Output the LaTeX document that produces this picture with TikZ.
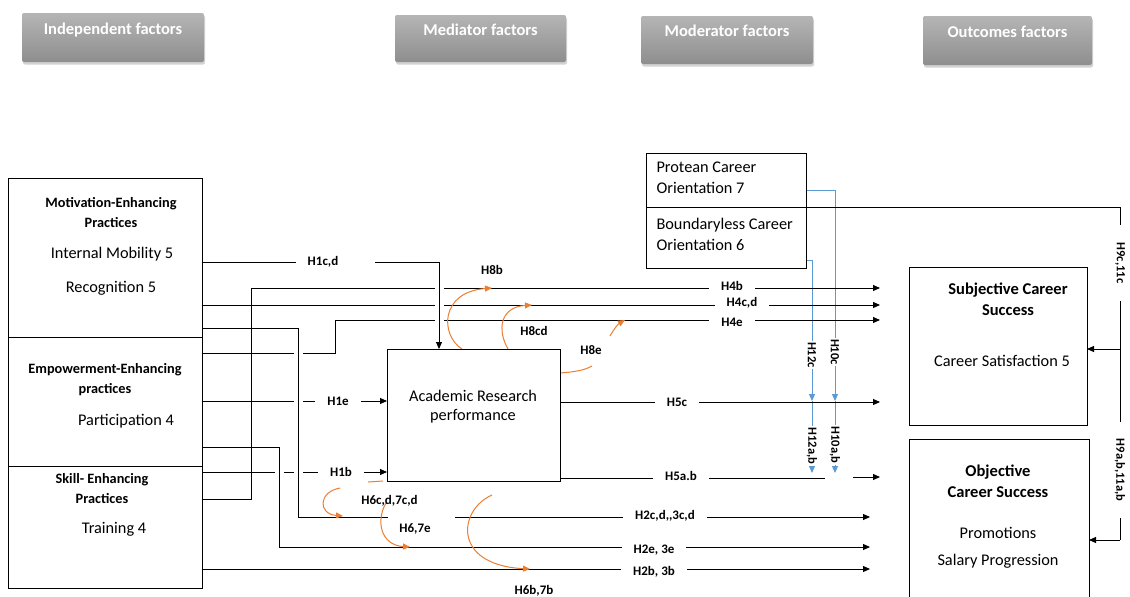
\documentclass[tikz,border=0pt]{standalone}
\usepackage{fontspec}
\setmainfont{Carlito}
\usetikzlibrary{arrows.meta,shadows}

\definecolor{hdrtop}{HTML}{B5B5B5}
\definecolor{hdrbot}{HTML}{8E8E8E}
\definecolor{hypor}{HTML}{ED7D31}
\definecolor{modblue}{HTML}{5B9BD5}

\newcommand{\hdrfont}{\fontsize{16.5}{19}\selectfont\bfseries}
\newcommand{\ttlfont}{\fontsize{14.3}{20}\selectfont\bfseries}
\newcommand{\outfont}{\fontsize{16.5}{21}\selectfont\bfseries}
\newcommand{\itmfont}{\fontsize{16.3}{20}\selectfont}
\newcommand{\hypfont}{\fontsize{13}{15}\selectfont\bfseries}

\tikzset{
hdrbox/.style={rounded corners=2pt, top color=hdrtop, bottom color=hdrbot,
  text=white, font=\hdrfont, text depth=18pt, inner sep=0pt,
  drop shadow={opacity=.35, shadow xshift=1pt, shadow yshift=-2.5pt}},
grpbox/.style={draw, line width=1pt, inner sep=0pt, outer sep=0pt},
grptitle/.style={align=center, font=\ttlfont},
outtitle/.style={align=center, font=\outfont},
itemtxt/.style={font=\itmfont},
modtxt/.style={align=left, font=\fontsize{16.3}{21}\selectfont},
ln/.style={line width=0.9pt},
hop/.style={preaction={draw=white, line width=9pt, arrows=-}},
blu/.style={draw=modblue, line width=1pt},
orln/.style={draw=hypor, line width=1pt},
hlab/.style={font=\hypfont, fill=white, inner xsep=12pt, inner ysep=2pt},
olab/.style={font=\hypfont},
rlab/.style={font=\fontsize{12.5}{14}\selectfont\bfseries, rotate=-90, fill=white, inner xsep=1.5pt, inner ysep=1pt},
}

\begin{document}
\begin{tikzpicture}[x=1pt, y=-1pt, >={Triangle[length=7pt,width=6pt]}]

\path[fill=white, use as bounding box] (0,0) rectangle (1130,597);

%%%%%%%%%%%%%%%%%%%%%%%%%%%%%%%%%%%%%%%%%%%%%%%%%%%%%%%%%%%%
% HEADERS
%%%%%%%%%%%%%%%%%%%%%%%%%%%%%%%%%%%%%%%%%%%%%%%%%%%%%%%%%%%%

\node[hdrbox, minimum width=182pt, minimum height=49pt] (hind) at (113,37.5) {Independent factors};
\node[hdrbox, minimum width=171pt, minimum height=47pt] (hmed) at (480.5,38.5) {Mediator factors};
\node[hdrbox, minimum width=172pt, minimum height=48pt] (hmod) at (727,40) {Moderator factors};
\node[hdrbox, minimum width=169pt, minimum height=49pt] (hout) at (1007.5,40.5) {Outcomes factors};

%%%%%%%%%%%%%%%%%%%%%%%%%%%%%%%%%%%%%%%%%%%%%%%%%%%%%%%%%%%%
% BOXES (placed first so the lines can use them)
%%%%%%%%%%%%%%%%%%%%%%%%%%%%%%%%%%%%%%%%%%%%%%%%%%%%%%%%%%%%

\path
node[grpbox, minimum width=194pt, minimum height=159pt] (mot) at (105,257.5) {}
node[grpbox, minimum width=194pt, minimum height=129pt] (emp) at (105,401.5) {}
node[grpbox, minimum width=194pt, minimum height=122pt] (skl) at (105,527) {}
node[grpbox, minimum width=173pt, minimum height=132pt] (arp) at (473.5,415) {}
node[grpbox, minimum width=160pt, minimum height=54pt] (pco) at (726,180) {}
node[grpbox, minimum width=160pt, minimum height=61pt] (bco) at (726,237.5) {}
node[grpbox, minimum width=178pt, minimum height=158pt] (sub) at (998,346) {}
node[grpbox, minimum width=180pt, minimum height=181pt] (obj) at (999,529.5) {};

% corners and arrow ends
\coordinate (c1cd) at (439,262);
\coordinate (c4b) at (251,288);
\coordinate (c4e) at (335,320);
\coordinate (c2cd) at (298,517);
\coordinate (c2e) at (279,547);
\coordinate (e4b) at (880,288);
\coordinate (e4cd) at (880,305);
\coordinate (e4e) at (880,320);
\coordinate (e5c) at (880,402);
\coordinate (e5ab) at (880,477);
\coordinate (g5a) at (825,478);
\coordinate (g5b) at (853,477);
\coordinate (g2a) at (388,517);
\coordinate (g2b) at (455,517);
\coordinate (e2cd) at (870,517);
\coordinate (e2e) at (870,547);
\coordinate (e2b) at (870,569);
\coordinate (m10) at (835,401);
\coordinate (t10) at (835,473);
\coordinate (m12) at (812,401);
\coordinate (t12) at (812,473);
\coordinate (r1) at (1120,349);
\coordinate (r2) at (1120,540);

%%%%%%%%%%%%%%%%%%%%%%%%%%%%%%%%%%%%%%%%%%%%%%%%%%%%%%%%%%%%
% MODERATOR LINES
%%%%%%%%%%%%%%%%%%%%%%%%%%%%%%%%%%%%%%%%%%%%%%%%%%%%%%%%%%%%

\draw[blu,->] (pco.east |- 0,190) -| (m10);
\draw[blu,->] (m10) -- (t10);
\draw[blu,->] (bco.east |- 0,260) -| (m12);
\draw[blu,->] (m12) -- (t12);

\draw[ln] (bco.north east) -| (r1) -- (r2);
\draw[ln,->] (r1) -- (r1 -| sub.east);
\draw[ln,->] (r2) -- (r2 -| obj.east);

%%%%%%%%%%%%%%%%%%%%%%%%%%%%%%%%%%%%%%%%%%%%%%%%%%%%%%%%%%%%
% HYPOTHESIS LINES
%%%%%%%%%%%%%%%%%%%%%%%%%%%%%%%%%%%%%%%%%%%%%%%%%%%%%%%%%%%%

\node[hlab, inner xsep=0pt] (h1cd) at (323,262) {H1c,d};

\draw[ln,->] (emp.east |- 0,353) -| (c4e) -- (e4e);
\draw[ln,->] (emp.east |- 0,401) -- (arp.west |- 0,401);
\draw[ln,->] (skl.east |- 0,472) -- (arp.west |- 0,472);
\draw[ln,->] (skl.east |- 0,569) -- (e2b);
\draw[ln,->] (mot.east |- 0,305) -- (e4cd);
\draw[ln,hop] (mot.east |- 0,328) -| (c2cd) -- (g2a);
\draw[ln,->] (g2b) -- (e2cd);
\draw[ln,hop,->] (emp.east |- 0,447) -| (c2e) -- (e2e);
\draw[ln,->] (skl.east |- 0,499) -| (c4b) -- (e4b);
\draw[ln] (mot.east |- h1cd) -- ([xshift=-12pt]h1cd.west);
\draw[ln,hop,->] ([xshift=37pt]h1cd.east) -| (arp.north -| c1cd);
\draw[ln,->] (arp.east |- 0,402) -- (e5c);
\draw[ln] (arp.east |- 0,478) -- (g5a);
\draw[ln,->] (g5b) -- (e5ab);

% labels on the lines
\node[hlab] (h4b) at (732,286) {H4b};
\node[hlab] (h4cd) at (742,303) {H4c,d};
\node[hlab] (h4e) at (732,322) {H4e};
\node[hlab] (h1e) at (338,401) {H1e};
\node[hlab] (h1b) at (341,472) {H1b};
\node[hlab] (h5c) at (677,402) {H5c};
\node[hlab] (h5ab) at (681,476) {H5a.b};
\node[hlab] (h2cd) at (665,516) {H2c,d,{},3c,d};
\node[hlab] (h2e) at (654,550) {H2e, 3e};
\node[hlab] (h2b) at (654,572) {H2b, 3b};

\node[rlab, inner xsep=18pt] (h9c) at (1120,263) {H9c,11c};
\node[rlab, inner xsep=17pt] (h9ab) at (1120,470) {H9a,b,11a,b};
\node[rlab] (h10c) at (835,352) {H10c};
\node[rlab] (h12c) at (812,355) {H12c};
\node[rlab] (h10ab) at (835,445) {H10a,b};
\node[rlab] (h12ab) at (812,446) {H12a,b};

%%%%%%%%%%%%%%%%%%%%%%%%%%%%%%%%%%%%%%%%%%%%%%%%%%%%%%%%%%%%
% MEDIATION ARCS
%%%%%%%%%%%%%%%%%%%%%%%%%%%%%%%%%%%%%%%%%%%%%%%%%%%%%%%%%%%%

\coordinate (o8b) at (492,288);
\coordinate (o8cd) at (532,305);
\coordinate (o8e1) at (592,366);
\coordinate (o8e2) at (610,336);
\coordinate (o8e) at (625,320);
\coordinate (o6a) at (383,481);
\coordinate (o6b) at (368,482);
\coordinate (o6c) at (340,488);
\coordinate (o6cd) at (343,516);
\coordinate (o67s) at (386,503);
\coordinate (o67e) at (410,547);
\coordinate (o6bs) at (492,495);
\coordinate (o6b7b) at (530,569);

\draw[orln,->] (arp.north -| 462,0) .. controls (440,335) and (440,292) .. (o8b);
\draw[orln,->] (arp.north -| 508,0) .. controls (497,330) and (500,307) .. (o8cd);
\draw[orln] (arp.east |- 0,373) .. controls (575,372) and (585,370) .. (o8e1);
\draw[orln,->] (o8e2) .. controls (614,329) and (618,324) .. (o8e);
\draw[orln] (o6a) -- (o6b);
\draw[orln,->] (o6c) .. controls (318,492) and (318,514) .. (o6cd);
\draw[orln,->] (o67s) .. controls (376,520) and (380,545) .. (o67e);
\draw[orln,->] (o6bs) .. controls (458,510) and (452,565) .. (o6b7b);

\node[olab] (h8b) at (492,270) {H8b};
\node[olab] (h8cd) at (534,331) {H8cd};
\node[olab] (h8e) at (591,350) {H8e};
\node[olab] (h6cd) at (389.5,501) {H6c,d,7c,d};
\node[olab] (h67e) at (415,529) {H6,7e};
\node[olab] (h6b7b) at (534,591) {H6b,7b};

%%%%%%%%%%%%%%%%%%%%%%%%%%%%%%%%%%%%%%%%%%%%%%%%%%%%%%%%%%%%
% BOX TEXTS (borders redrawn on top)
%%%%%%%%%%%%%%%%%%%%%%%%%%%%%%%%%%%%%%%%%%%%%%%%%%%%%%%%%%%%

\foreach \b in {mot,emp,skl,arp,pco,bco,sub,obj}
  \draw[line width=1pt] (\b.north west) rectangle (\b.south east);

\node[grptitle] (motT) at (111,213) {Motivation-Enhancing\\Practices};
\node[itemtxt] (motI) at (112,254) {Internal Mobility 5};
\node[itemtxt] (motR) at (111,288) {Recognition 5};
\node[grptitle] (empT) at (105,380) {Empowerment-Enhancing\\practices};
\node[itemtxt] (empP) at (126,421) {Participation 4};
\node[grptitle] (sklT) at (102,488.5) {Skill- Enhancing\\Practices};
\node[itemtxt] (sklR) at (114,529) {Training 4};

\node[itemtxt, align=center, font=\fontsize{16.3}{19}\selectfont] (arpT) at (473,406.5) {Academic Research\\performance};

\node[modtxt, anchor=west] (pcoT) at (653,178) {Protean Career\\Orientation 7};
\node[modtxt, anchor=west] (bcoT) at (653,234) {Boundaryless Career\\Orientation 6};

\node[outtitle] (subT) at (1008,299) {Subjective Career\\Success};
\node[itemtxt] (subS) at (1002,361) {Career Satisfaction 5};
\node[outtitle] (objT) at (998,481.5) {Objective\\Career Success};
\node[itemtxt] (objP) at (998,533) {Promotions};
\node[itemtxt] (objS) at (998,561) {Salary Progression};

\end{tikzpicture}
\end{document}
